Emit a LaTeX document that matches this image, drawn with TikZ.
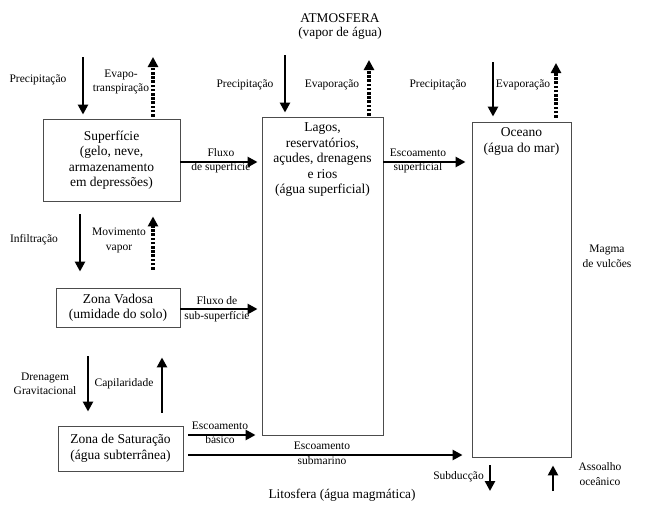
\documentclass[tikz,border=0pt]{standalone}
\usepackage{fontspec}
\setmainfont{Liberation Serif}
\usetikzlibrary{arrows.meta}
\begin{document}
\begin{tikzpicture}[x=1pt,y=-1pt,
  box/.style={draw=black!70, line width=0.9pt, inner sep=0pt},
  boxtxt/.style={font=\fontsize{13.5}{15.5}\selectfont, align=center, inner sep=0pt},
  lbl/.style={font=\fontsize{11.5}{14.5}\selectfont, align=center, inner sep=0pt},
  ttl/.style={font=\fontsize{13.3}{14}\selectfont, align=center, inner sep=0pt},
  arr/.style={line width=2.9pt, -{Triangle[length=10pt,width=10pt]}},
  darr/.style={line width=3.6pt, dash pattern=on 2.6pt off 1.6pt, -{Triangle[length=10pt,width=10pt]}},
]
\useasboundingbox (0,0) rectangle (648,509);

% boxes
\node[box, boxtxt, minimum width=137pt, minimum height=82pt] (sup) at (111.5,160)
  {Superfície\\(gelo, neve,\\armazenamento\\em depressões)};
\node[box, minimum width=121pt, minimum height=318pt] (lag) at (322.5,276) {};
\node[boxtxt, anchor=north] (lagt) at ([yshift=-6pt]lag.north)
  {Lagos,\\reservatórios,\\açudes, drenagens\\e rios\\(água superficial)};
\node[box, minimum width=99pt, minimum height=335pt] (oce) at (521.5,289.5) {};
\node[boxtxt, anchor=north] (ocet) at ([yshift=-6pt]oce.north)
  {Oceano\\(água do mar)};
\node[box, boxtxt, minimum width=124pt, minimum height=39pt] (vad) at (118,307.5)
  {Zona Vadosa\\(umidade do solo)};
\node[box, boxtxt, minimum width=125pt, minimum height=45pt] (sat) at (120.5,448.5)
  {Zona de Saturação\\(água subterrânea)};

% titles
\node[ttl] (atm) at (340,27) {ATMOSFERA\\(vapor de água)};
\node[ttl] (lit) at (342,495) {Litosfera (água magmática)};

% helper coordinates
\coordinate (p1) at (83,57);
\coordinate (e1) at (153,57);
\coordinate (p2) at (285,55);
\coordinate (e2) at (369,60);
\coordinate (p3) at (493,62);
\coordinate (e3) at (556,63);
\coordinate (xi) at (80,0);
\coordinate (xm) at (153,0);
\coordinate (xd) at (88,0);
\coordinate (xc) at (162,0);
\coordinate (yf) at (0,162);
\coordinate (ys) at (0,309);
\coordinate (yb) at (0,435);
\coordinate (ym) at (0,455);
\coordinate (xs) at (490,0);
\coordinate (sube) at (490,491);
\coordinate (asso) at (553,491);

% atmosphere exchanges
\draw[arr, shorten >=4pt] (p1) -- (p1 |- sup.north);
\draw[darr, shorten <=2pt] (sup.north -| e1) -- (e1);
\draw[arr, shorten >=4pt] (p2) -- (p2 |- lag.north);
\draw[darr, shorten <=1pt] (lag.north -| e2) -- (e2);
\draw[arr, shorten >=5pt] (p3) -- (p3 |- oce.north);
\draw[darr, shorten <=4pt] (oce.north -| e3) -- (e3);

\node[lbl] (l1) at (38,80) {Precipitação};
\node[lbl] (l2) at (121,82) {Evapo-\\transpiração};
\node[lbl] (l3) at (245,85) {Precipitação};
\node[lbl] (l4) at (332,85) {Evaporação};
\node[lbl] (l5) at (438,85) {Precipitação};
\node[lbl] (l6) at (523,85) {Evaporação};

% horizontal flows
\draw[arr, shorten >=4pt] (sup.east |- yf) -- (lag.west |- yf);
\node[lbl] (l7) at (221,160.5) {Fluxo\\de superfície};
\draw[arr, shorten >=6pt] (lag.east |- yf) -- (oce.west |- yf);
\node[lbl] (l8) at (418,161) {Escoamento\\superficial};
\draw[arr, shorten >=4pt] (vad.east |- ys) -- (lag.west |- ys);
\node[lbl] (l9) at (217,309) {Fluxo de\\sub-superfície};
\draw[arr, shorten <=5pt, shorten >=6pt] (sat.east |- yb) -- (lag.west |- yb);
\node[lbl] (l10) at (220,433) {Escoamento\\básico};
\draw[arr, shorten <=5pt, shorten >=9pt] (sat.east |- ym) -- (oce.west |- ym);
\node[lbl] (l11) at (322,453.5) {Escoamento\\submarino};

% vertical exchanges between zones
\draw[arr, shorten <=13pt, shorten >=16pt] (sup.south -| xi) -- (vad.north -| xi);
\node[lbl] (l12) at (34,240) {Infiltração};
\draw[darr, shorten <=18pt, shorten >=15pt] (vad.north -| xm) -- (sup.south -| xm);
\node[lbl] (l13) at (119,240.5) {Movimento\\vapor};
\draw[arr, shorten <=29pt, shorten >=14pt] (vad.south -| xd) -- (sat.north -| xd);
\node[lbl] (l14) at (45,384) {Drenagem\\Gravitacional};
\draw[arr, shorten <=13pt, shorten >=30pt] (sat.north -| xc) -- (vad.south -| xc);
\node[lbl] (l15) at (124,384) {Capilaridade};

% lithosphere exchanges
\draw[arr, shorten <=8pt] (oce.south -| xs) -- (sube);
\node[lbl, anchor=east] (l16) at (484,477) {Subducção};
\draw[arr, shorten >=8pt] (asso) -- (oce.south -| asso);
\node[lbl] (l17) at (600,474) {Assoalho\\oceânico};
\node[lbl] (l18) at (607,256.5) {Magma\\de vulcões};
\end{tikzpicture}
\end{document}
